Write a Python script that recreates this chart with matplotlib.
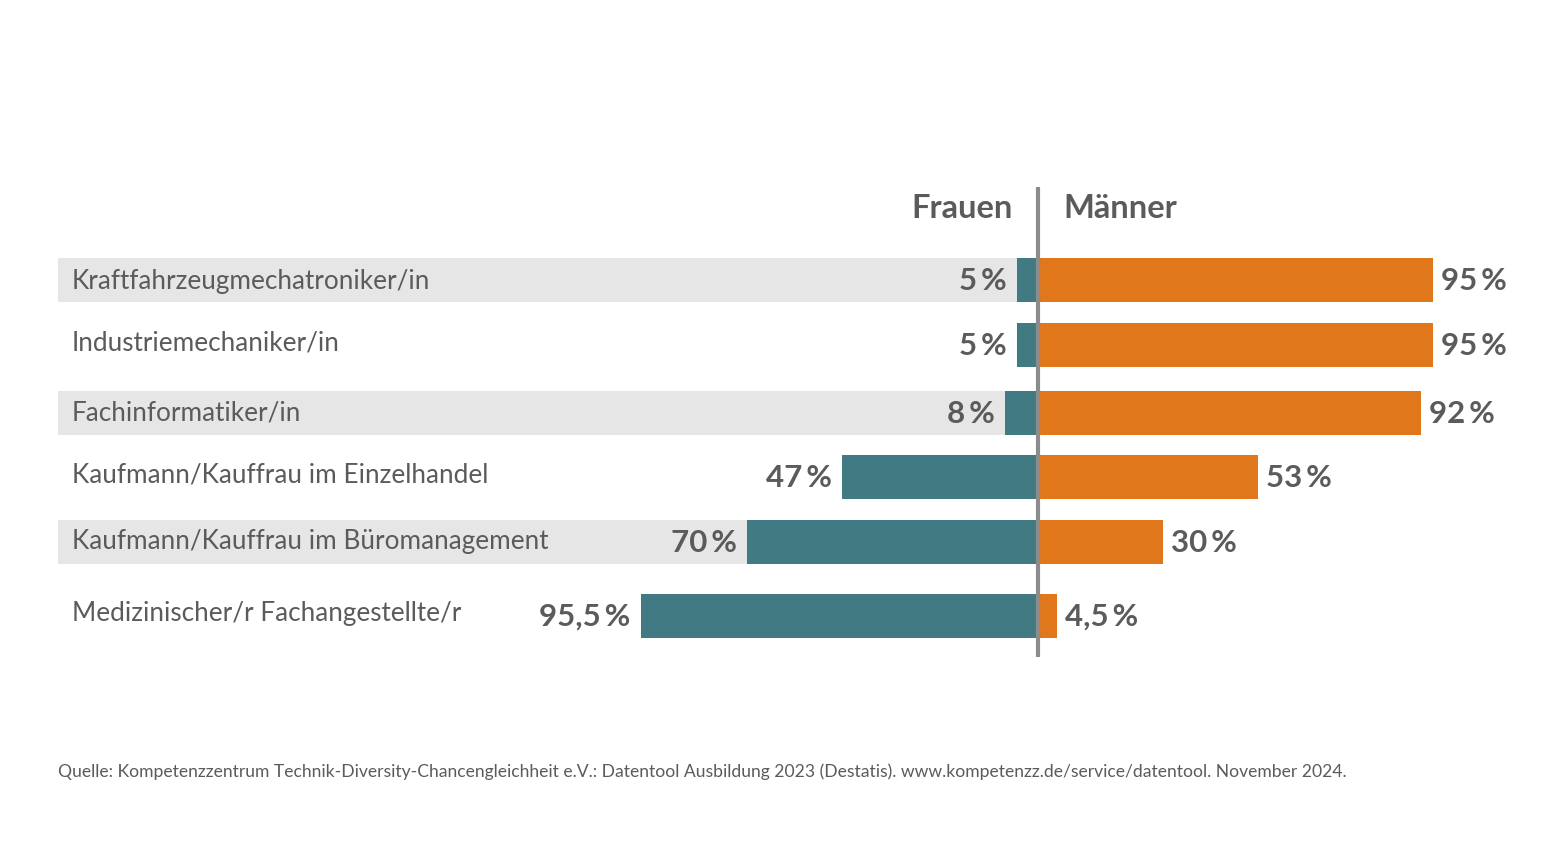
import matplotlib.pyplot as plt

berufe = ['Kraftfahrzeugmechatroniker/in', 'Industriemechaniker/in', 'Fachinformatiker/in',
          'Kaufmann/Kauffrau im Einzelhandel', 'Kaufmann/Kauffrau im Büromanagement',
          'Medizinischer/r Fachangestellte/r']
frauen = [5, 5, 8, 47, 70, 95.5]
maenner = [95, 95, 92, 53, 30, 4.5]
frauen_txt = ['5\u2009%', '5\u2009%', '8\u2009%', '47\u2009%', '70\u2009%', '95,5\u2009%']
maenner_txt = ['95\u2009%', '95\u2009%', '92\u2009%', '53\u2009%', '30\u2009%', '4,5\u2009%']
quelle = ('Quelle: Kompetenzzentrum Technik-Diversity-Chancengleichheit e.V.: Datentool Ausbildung 2023 '
          '(Destatis). www.kompetenzz.de/service/datentool. November 2024.')

# layout (pixel rows of the original, y axis runs in pixels)
row_y = [280, 345, 413, 477, 542, 616]
label_dy = [2, -2, 0, -2, 0, -3]
bar_h = 44
px = 4.16  # pixels per percent
center = 1038

teal = '#427a84'
orange = '#e0771b'
band = '#e6e6e6'
grey = '#5b5b5b'

plt.rcParams['font.family'] = ['Lato', 'DejaVu Sans']

fig = plt.figure(figsize=(15.6, 8.43), dpi=100)
ax = fig.add_axes([0, 0, 1, 1])
ax.set_xlim(-center / px, (1560 - center) / px)
ax.set_ylim(843, 0)
ax.axis('off')

x_band = (58 - center) / px
for i, y in enumerate(row_y):
    if i % 2 == 0:
        ax.barh(y, -x_band, left=x_band, height=bar_h, color=band, zorder=1)
    ax.barh(y, -frauen[i], height=bar_h, color=teal, zorder=2)
    ax.barh(y, maenner[i], height=bar_h, color=orange, zorder=2)
    ax.text(x_band + 14 / px, y + label_dy[i], berufe[i], ha='left', va='center',
            fontsize=18.8, color=grey, zorder=3)
    ax.text(-frauen[i] - 10 / px, y + 1, frauen_txt[i], ha='right', va='center',
            fontsize=22.5, fontweight='bold', color=grey, zorder=3)
    ax.text(maenner[i] + 8 / px, y + 1, maenner_txt[i], ha='left', va='center',
            fontsize=22.5, fontweight='bold', color=grey, zorder=3)

ax.plot([0, 0], [187, 657], color='#8c8c8c', lw=3, zorder=4, solid_capstyle='butt')

ax.text(-25 / px, 208, 'Frauen', ha='right', va='center', fontsize=23.5,
        fontweight='bold', color=grey)
ax.text(25 / px, 208, 'Männer', ha='left', va='center', fontsize=23.5,
        fontweight='bold', color=grey)

ax.text(x_band, 772, quelle, ha='left', va='center', fontsize=12.6, color=grey)

fig.savefig('out.png', dpi=100)
